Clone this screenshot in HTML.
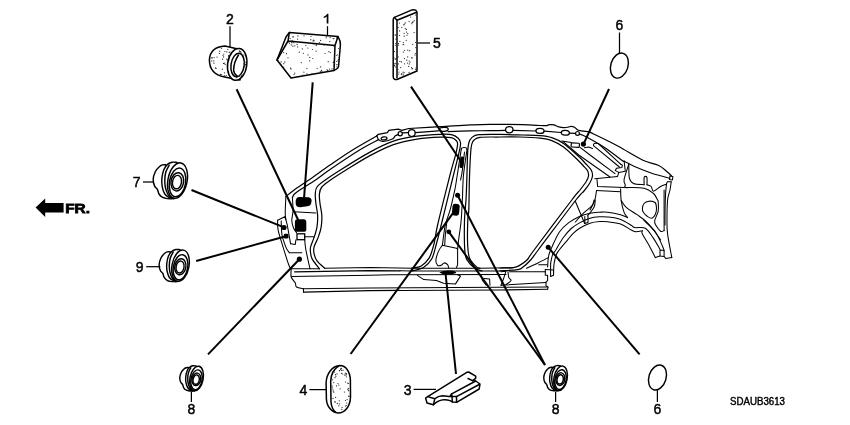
<!DOCTYPE html>
<html>
<head>
<meta charset="utf-8">
<title>Grommet (Side) diagram</title>
<style>
html,body{margin:0;padding:0;background:#fff;}
body{width:850px;height:425px;overflow:hidden;font-family:"Liberation Sans",sans-serif;filter:grayscale(1);}
svg{display:block;}
.b{fill:none;stroke:#000;stroke-width:1.22;stroke-linecap:round;stroke-linejoin:round;}
.bt{fill:none;stroke:#000;stroke-width:1.05;stroke-linecap:round;stroke-linejoin:round;}
.b2{fill:none;stroke:#000;stroke-width:1.3;stroke-linecap:round;stroke-linejoin:round;}
.p{fill:none;stroke:#000;stroke-width:1.5;stroke-linecap:round;stroke-linejoin:round;}
.pw{fill:#fff;stroke:#000;stroke-width:1.5;stroke-linecap:round;stroke-linejoin:round;}
.g{fill:none;stroke:#000;stroke-width:1.45;vector-effect:non-scaling-stroke;stroke-linecap:round;stroke-linejoin:round;}
.gw{fill:#fff;stroke:#000;stroke-width:1.45;vector-effect:non-scaling-stroke;stroke-linecap:round;stroke-linejoin:round;}
.l{fill:none;stroke:#000;stroke-width:2.0;stroke-linecap:butt;}
.t{fill:none;stroke:#000;stroke-width:1.25;}
.k{fill:#000;stroke:none;}
.w{fill:#fff;stroke:#000;stroke-width:1.3;}
.n{font-family:"Liberation Sans",sans-serif;font-size:14px;fill:#000;text-anchor:middle;stroke:#000;stroke-width:0.45;}
.d{fill:#222;stroke:none;}
</style>
</head>
<body>
<svg width="850" height="425" viewBox="0 0 850 425">
<rect x="0" y="0" width="850" height="425" fill="#fff"/>
<!-- ================= CAR BODY ================= -->
<g id="body">
<path class="b" d="M285.9,196.5 C287.2,195.5 289.7,193.2 293.5,190.4 C297.3,187.7 302.7,184.2 308.8,180.0 C314.9,175.8 322.7,170.1 330.0,165.1 C337.3,160.1 344.8,154.8 352.6,150.0 C360.4,145.2 372.8,138.3 376.8,136.0"/>
<path class="b" d="M376.8,135.8 L378.4,134.3 L387.4,132.6 L388.8,130.4 L398.2,129.2 L401.8,130.3 L408.8,128.5"/>
<path class="b" d="M408.8,128.5 C414.1,128.2 430.4,127.3 440.6,126.7 C450.8,126.1 461.8,125.3 470.0,124.9 C478.2,124.5 481.3,124.3 490.0,124.3 C498.7,124.3 514.1,124.5 522.4,124.7 C530.7,124.9 535.9,125.3 540.0,125.5 C544.1,125.7 545.8,125.7 547.0,125.7"/>
<path class="b" d="M547.0,125.5 C547.5,125.3 548.8,124.7 550.0,124.6 C551.2,124.5 552.7,124.6 554.0,124.9 C555.3,125.2 556.4,126.1 558.0,126.6 C559.6,127.0 561.8,127.5 563.5,127.6 C565.2,127.7 566.8,127.4 568.0,127.2 C569.2,127.0 569.9,126.4 571.0,126.4 C572.1,126.4 573.5,126.7 574.5,127.2 C575.5,127.7 576.1,128.8 577.0,129.4 C577.9,130.0 577.9,130.2 580.0,130.6 C582.1,131.0 587.8,131.7 589.4,131.9"/>
<path class="b" d="M589.4,131.9 C592.9,133.6 605.0,139.3 610.6,142.2 C616.2,145.0 617.6,146.0 623.0,149.0 C628.4,152.0 637.1,157.5 643.0,160.2 C648.9,162.9 654.3,163.5 658.2,165.3 C662.1,167.1 664.3,169.4 666.5,171.2 C668.7,173.0 670.7,175.1 671.5,175.9"/>
<path class="b" d="M376.8,135.8 C377.1,136.4 377.6,138.7 378.6,139.6 C379.6,140.5 380.7,141.5 383.0,141.4 C385.3,141.3 390.3,139.9 392.4,139.0 C394.4,138.1 394.4,136.5 395.3,135.8 C396.2,135.1 397.6,134.8 398.0,134.6"/>
<ellipse class="b" cx="384.1" cy="138.4" rx="3" ry="1.5" transform="rotate(-8 384.1 138.4)"/>
<circle class="b" cx="400.2" cy="133.8" r="2.1"/>
<path class="b" d="M402.3,132.8 L408.4,132.6"/>
<circle class="b" cx="411.8" cy="133.1" r="3.4"/>
<ellipse class="b" cx="443.6" cy="129.4" rx="4.6" ry="2.0" transform="rotate(-5 443.4 128.8)"/>
<path class="b" d="M415.3,132.6 L438.4,130.9"/>
<path class="b" d="M448.0,131.6 C451.7,131.5 463.0,131.0 470.0,130.8 C477.0,130.7 484.1,130.8 490.0,130.7 C495.9,130.6 502.8,130.4 505.4,130.4"/>
<path class="b" d="M513.0,130.4 L535.8,131.0"/>
<path class="b" d="M544.2,131.2 L561.2,132.5"/>
<path class="b" d="M569.4,133.1 L575.4,133.4"/>
<path class="b" d="M579.6,134.0 C580.8,134.5 582.2,134.7 586.5,137.0 C590.8,139.3 599.4,144.1 605.3,148.0 C611.2,151.9 618.7,158.0 621.8,160.2 C624.9,162.4 623.7,161.0 624.1,161.2"/>
<ellipse class="b" cx="509.3" cy="129.8" rx="3.7" ry="3.1"/>
<ellipse class="b" cx="540" cy="130.9" rx="4.1" ry="2.5" transform="rotate(3 540 130.9)"/>
<ellipse class="b" cx="565.3" cy="132.8" rx="4.1" ry="2.4" transform="rotate(4 565.3 132.8)"/>
<circle class="b" cx="577.5" cy="133.4" r="1.9"/>
<path class="b" d="M378.6,139.6 C375.4,141.3 367.7,145.0 359.6,150.0 C351.5,155.0 337.3,164.5 330.0,169.5 C322.7,174.5 320.7,176.6 315.6,180.0 C310.5,183.4 303.0,187.8 299.4,190.2 C295.8,192.6 295.4,193.1 294.2,194.3 C293.0,195.5 292.7,197.1 292.4,197.6"/>
<path class="bt" d="M292.4,197.6 C292.5,199.8 293.1,207.2 293.0,211.0 C292.9,214.8 291.7,217.7 291.8,220.5 C291.9,223.3 292.7,226.0 293.5,228.0 C294.3,230.0 296.0,231.8 296.5,232.6"/>
<path class="bt" d="M285.9,196.5 C285.8,199.6 285.0,210.2 285.3,215.3 C285.6,220.4 286.7,222.1 287.6,226.8 C288.5,231.6 290.1,241.0 290.6,243.8"/>
<path class="bt" d="M290.6,243.8 L295.3,244.4 L295.9,239.7"/>
<path class="bt" d="M294.0,211.8 L315.8,213.0"/>
<path class="b" d="M319.4,268.8 C318.2,267.2 313.9,262.0 312.4,259.4 C310.9,256.8 310.9,255.1 310.6,253.0 C310.3,250.9 310.0,249.4 310.6,246.8 C311.2,244.2 313.0,240.7 314.1,237.4 C315.2,234.1 316.4,230.5 317.0,226.8 C317.6,223.1 317.8,218.9 317.6,215.0 C317.4,211.1 316.3,207.0 315.9,203.5 C315.5,200.0 315.1,196.8 315.3,194.1 C315.5,191.3 315.3,189.3 317.0,187.0 C318.7,184.7 321.4,182.8 325.3,180.0 C329.2,177.2 332.9,174.7 340.4,170.0 C347.8,165.3 361.1,156.9 370.0,152.1 C378.9,147.3 385.7,143.8 393.5,141.2 C401.3,138.5 409.1,137.3 417.0,136.2 C424.9,135.0 434.7,134.5 440.6,134.3 C446.5,134.1 449.5,134.1 452.4,134.8 C455.3,135.5 456.8,136.9 458.2,138.3 C459.6,139.7 460.5,140.7 460.6,143.2 C460.7,145.7 460.0,148.2 458.8,153.5 C457.6,158.8 456.4,163.1 453.5,175.0 C450.6,186.9 444.0,213.6 441.2,225.0 C438.4,236.4 438.1,237.9 436.5,243.5 C434.9,249.1 434.0,254.8 431.8,258.8 C429.6,262.8 426.8,265.6 423.5,267.6 C420.2,269.6 413.9,270.3 412.0,270.9"/>
<path class="b" d="M324.7,268.2 C323.4,267.0 318.8,263.3 317.0,260.9 C315.2,258.5 314.6,256.1 314.1,253.8 C313.6,251.5 313.4,249.5 314.1,246.8 C314.8,244.1 317.0,240.7 318.2,237.4 C319.4,234.1 320.6,230.5 321.2,226.8 C321.8,223.1 322.0,218.9 321.8,215.0 C321.6,211.1 320.4,207.0 320.0,203.5 C319.6,200.0 319.1,196.8 319.4,194.1 C319.7,191.3 319.9,189.3 321.8,187.0 C323.7,184.7 326.5,182.8 330.5,180.0 C334.5,177.2 339.4,174.1 346.0,170.0 C352.6,165.9 362.1,159.8 370.0,155.6 C377.9,151.4 385.7,147.3 393.5,144.6 C401.3,141.8 409.1,140.3 417.0,139.1 C424.9,137.9 434.9,137.4 440.6,137.2 C446.3,137.0 448.6,137.2 451.2,137.7 C453.8,138.2 454.8,139.1 455.9,140.2 C457.0,141.3 457.7,141.7 457.6,144.3 C457.5,146.9 456.6,150.8 455.3,155.9 C454.0,161.0 452.9,163.5 450.0,175.0 C447.1,186.5 440.2,213.6 437.6,225.0 C435.0,236.4 435.5,238.1 434.1,243.5 C432.7,248.9 431.5,253.9 429.4,257.6 C427.2,261.3 424.1,264.1 421.2,265.9 C418.3,267.7 413.4,267.8 411.8,268.2"/>
<path class="b" d="M482.0,270.9 C480.9,270.5 477.8,270.4 475.3,268.6 C472.8,266.8 468.8,263.2 467.0,260.0 C465.2,256.8 465.1,256.1 464.7,249.4 C464.3,242.7 464.3,228.2 464.5,220.0 C464.7,211.8 465.6,206.7 466.0,200.0 C466.4,193.3 466.5,187.8 466.8,180.0 C467.1,172.2 467.3,159.7 467.6,153.5 C467.9,147.3 468.1,145.7 468.8,143.0 C469.5,140.3 470.1,139.0 471.8,137.6 C473.5,136.2 474.1,135.2 478.8,134.7 C483.5,134.2 492.7,134.3 500.0,134.4 C507.3,134.5 515.7,134.8 522.4,135.0 C529.1,135.2 535.1,135.2 540.0,135.6 C544.9,136.0 547.9,136.3 551.8,137.6 C555.7,138.9 559.0,140.3 563.5,143.5 C568.0,146.7 575.0,153.1 578.8,156.5 C582.5,159.9 583.9,161.8 586.0,164.0 C588.1,166.2 590.1,168.0 591.2,170.0 C592.3,172.0 592.7,173.8 592.5,176.0 C592.3,178.2 591.2,180.5 589.8,183.0 C588.4,185.5 586.3,188.2 584.0,191.0 C581.7,193.8 583.5,190.2 575.9,200.0 C568.3,209.8 545.8,240.0 538.2,250.0 C530.7,260.0 533.2,257.1 530.6,260.0 C528.0,262.9 524.6,266.0 522.4,267.6 C520.2,269.2 521.3,269.1 517.6,269.6 C513.9,270.2 502.9,270.7 500.0,270.9"/>
<path class="b" d="M480.0,268.2 C479.4,268.0 478.3,268.8 476.5,267.0 C474.7,265.2 470.9,261.5 469.4,257.6 C467.9,253.7 467.9,249.8 467.6,243.5 C467.3,237.2 467.6,225.6 467.8,220.0 C468.0,214.4 468.5,216.7 468.8,210.0 C469.1,203.3 469.1,189.4 469.4,180.0 C469.7,170.6 470.2,159.5 470.6,153.5 C471.0,147.5 471.2,146.3 471.8,144.1 C472.4,141.8 472.7,141.1 474.1,140.0 C475.5,138.9 475.7,137.8 480.0,137.3 C484.3,136.8 493.3,137.1 500.0,137.0 C506.7,136.9 513.3,136.8 520.0,137.0 C526.7,137.2 534.7,137.6 540.0,138.2 C545.3,138.8 547.9,139.1 551.8,140.6 C555.7,142.1 559.4,144.0 563.5,147.0 C567.6,150.0 573.2,155.7 576.5,158.8 C579.8,161.9 581.2,163.6 583.0,165.5 C584.8,167.4 586.6,168.8 587.5,170.5 C588.4,172.2 588.7,174.2 588.5,176.0 C588.3,177.8 587.6,179.2 586.2,181.5 C584.8,183.8 582.4,186.9 580.0,190.0 C577.6,193.1 579.4,190.0 571.8,200.0 C564.1,210.0 541.6,240.0 534.1,250.0 C526.6,260.0 529.5,257.4 527.0,260.0 C524.5,262.6 521.1,264.6 518.8,265.9 C516.5,267.2 516.1,267.2 513.0,267.6 C509.9,268.0 502.2,267.9 500.0,268.0"/>
<path class="bt" d="M461.2,149.6 C461.3,149.3 461.5,148.2 462.0,147.9 C462.5,147.6 463.4,147.5 464.1,147.5 C464.8,147.5 465.7,147.6 466.2,147.9 C466.7,148.2 466.9,149.3 467.0,149.6"/>
<path class="bt" d="M461.2,149.6 C460.4,154.7 457.6,173.2 456.5,180.0 C455.4,186.8 455.8,185.2 454.7,190.3 C453.6,195.4 451.6,204.5 450.0,210.3 C448.4,216.1 446.6,219.2 445.3,225.0 C444.0,230.8 442.9,241.9 442.4,245.3"/>
<path class="bt" d="M467.0,149.6 C466.4,153.8 464.3,166.8 463.5,175.0 C462.7,183.2 462.8,191.0 462.4,198.5 C462.0,206.0 461.8,213.1 461.2,220.0 C460.6,226.9 459.2,235.1 458.6,240.0 C458.0,244.9 457.8,247.8 457.6,249.4"/>
<path class="bt" d="M464.5,152.0 C464.1,155.0 463.0,165.3 462.4,170.0 C461.8,174.7 460.9,178.3 460.6,180.0"/>
<path class="bt" d="M447.0,220.0 L445.3,235.3 L444.7,245.3"/>
<path class="bt" d="M442.4,245.3 C441.8,246.2 439.9,248.2 438.8,250.6 C437.7,253.0 436.1,257.6 435.9,260.0 C435.7,262.4 436.7,264.4 437.6,265.3 C438.5,266.2 440.1,265.7 441.2,265.3 C442.3,264.9 443.0,263.0 444.1,262.9 C445.2,262.8 446.8,263.8 447.6,264.7 C448.4,265.6 448.6,267.6 448.8,268.2"/>
<path class="bt" d="M442.4,245.3 L456.5,248.2 L457.6,249.4 L457.6,264.7 L456.5,267.6"/>
<path class="bt" d="M291.2,268.8 L319.4,268.8"/>
<path class="bt" d="M291.2,268.8 C291.2,270.2 290.5,274.6 291.2,277.0 C291.9,279.4 294.4,281.3 295.3,283.0 C296.2,284.7 295.1,286.0 296.5,287.0 C297.9,288.0 302.3,288.5 303.5,288.8"/>
<path class="bt" d="M303.5,288.8 L303.5,292.1"/>
<path class="bt" d="M324.7,268.2 L370.0,267.6 L411.8,268.2 L480.0,268.2 L513.0,267.8"/>
<path class="b2" d="M294.7,271.8 L370.0,270.6 L400.0,270.8"/>
<path class="bt" d="M400.0,270.8 L412.0,270.9 L500.0,270.9"/>
<path class="bt" d="M291.8,276.5 L370.0,275.3 L390.0,274.7 L506.0,274.4"/>
<path class="bt" d="M509.4,271.8 L545.3,271.8"/>
<path class="bt" d="M303.5,288.8 L370.0,287.9 L500.0,287.3 L547.6,286.9"/>
<path class="b2" d="M303.5,292.1 L370.0,290.6 L400.0,290.3"/>
<path class="bt" d="M400.0,290.5 L500.0,290.0 L547.6,289.3"/>
<path class="bt" d="M501.0,285.3 L546.0,282.4"/>
<path class="bt" d="M417.4,275.4 L423.8,279.6 L436.5,280.4 L443.5,283.2 L455.5,283.9 L460.5,276.1 L457.6,274.8"/>
<path class="bt" d="M481.0,275.3 L482.5,280.5 L486.0,285.0"/>
<path class="bt" d="M484.0,278.5 L489.6,279.0 L490.0,285.3"/>
<path class="bt" d="M501.0,271.8 L506.0,271.2 L503.5,278.8 L501.0,285.3"/>
<path class="bt" d="M508.0,271.8 C508.1,272.8 508.3,276.1 508.8,277.6 C509.3,279.1 511.5,279.4 511.0,280.6 C510.5,281.8 506.8,284.0 506.0,284.7"/>
<path class="bt" d="M545.3,269.4 L545.3,275.3 L547.6,275.3 L547.6,280.6 L546.0,281.8 L546.0,285.9 L548.2,286.9 L547.6,289.3"/>
<path class="bt" d="M545.3,269.4 L553.5,270.0 L553.5,275.3 L550.6,276.4"/>
<path class="bt" d="M550.6,263.5 L550.6,276.4"/>
<path class="bt" d="M526.5,268.2 C528.4,267.3 534.4,264.8 538.0,263.0 C541.6,261.2 546.5,258.5 548.2,257.6"/>
<path class="bt" d="M538.8,264.7 L547.0,264.7"/>
<path class="bt" d="M277.6,220.3 C277.7,222.0 277.3,225.9 278.2,230.3 C279.1,234.7 281.2,241.0 283.0,246.8 C284.8,252.6 287.4,261.3 288.8,265.0 C290.2,268.7 290.8,268.2 291.2,268.8"/>
<path class="bt" d="M277.6,220.3 L284.7,216.8 L285.8,219.5"/>
<path class="bt" d="M281.2,220.9 C281.3,223.2 281.3,230.9 282.0,235.0 C282.7,239.1 284.4,243.0 285.3,245.6 C286.2,248.2 286.9,249.1 287.6,250.3 C288.3,251.5 289.1,252.3 289.4,252.7"/>
<path class="bt" d="M289.4,252.7 L301.8,252.7"/>
<rect class="w" x="297" y="233.8" width="7.7" height="5.9"/>
<path class="bt" d="M304.7,236.8 L314.4,236.8"/>
<path class="bt" d="M304.7,239.7 C304.9,241.4 305.0,245.2 305.9,250.0 C306.8,254.8 309.3,265.7 310.0,268.8"/>
<path class="bt" d="M593.5,145.6 C593.5,145.4 593.3,144.6 593.6,144.2 C593.9,143.8 594.7,143.4 595.5,143.3 C596.3,143.2 597.8,143.5 598.2,143.5"/>
<path class="bt" d="M598.2,143.5 L620.6,164.1"/>
<path class="bt" d="M593.5,145.6 L619.4,167.0"/>
<path class="bt" d="M580.4,147.6 L590.0,155.0 L615.0,173.6"/>
<path class="bt" d="M563.2,141.6 L578.8,155.0 L610.0,177.0"/>
<path class="bt" d="M561.8,140.9 L571.2,142.6"/>
<rect class="b" x="571.2" y="143" width="8.2" height="4.2" rx="0.8" transform="rotate(4 575 145)"/>
<path class="bt" d="M584.4,147.8 L588.6,147.0 L592.5,148.5"/>
<path class="bt" d="M620.6,164.1 L622.4,165.3 L621.8,167.6 L616.5,168.2 L615.3,170.6 L618.8,172.4 L617.6,176.2"/>
<path class="bt" d="M624.1,161.0 L625.3,171.2 L618.8,172.4"/>
<path class="bt" d="M594.7,178.8 L617.6,176.5"/>
<path class="bt" d="M597.0,179.4 L597.6,186.5 L624.1,187.6"/>
<path class="bt" d="M596.5,190.6 L620.6,191.8"/>
<path class="bt" d="M596.5,190.6 C596.2,192.3 595.8,197.4 594.7,200.6 C593.6,203.8 590.8,208.4 590.0,210.0"/>
<path class="bt" d="M620.6,188.8 C620.7,190.8 620.6,196.7 621.2,200.6 C621.8,204.5 623.0,209.6 624.1,212.4 C625.2,215.2 627.0,216.7 627.6,217.6"/>
<path class="bt" d="M628.8,164.1 C628.0,166.7 624.7,175.9 624.1,179.4 C623.5,182.9 625.3,183.9 625.3,185.3 C625.3,186.7 624.3,187.2 624.1,187.6"/>
<path class="bt" d="M628.8,164.1 C628.9,166.4 628.6,175.0 629.4,178.2 C630.2,181.4 631.0,182.4 633.5,183.5 C636.0,184.6 642.3,184.5 644.1,184.7"/>
<path class="bt" d="M644.1,184.7 C644.1,183.5 643.9,179.0 644.1,177.6 C644.3,176.2 645.0,176.4 645.5,176.4 C646.0,176.4 646.8,176.2 647.0,177.6 C647.2,179.0 647.0,183.5 647.0,184.7"/>
<path class="bt" d="M647.0,184.7 C647.7,185.0 650.1,185.4 651.2,186.5 C652.3,187.6 651.9,191.2 653.5,191.2 C655.1,191.2 658.4,187.7 660.6,186.5 C662.8,185.3 665.5,184.5 666.5,184.1"/>
<path class="bt" d="M625.3,187.6 C628.4,187.7 639.4,187.2 644.1,188.2 C648.8,189.2 651.2,191.5 653.5,193.5 C655.8,195.5 656.8,198.6 657.6,200.0 C658.4,201.4 658.1,199.9 658.2,201.8 C658.3,203.7 658.8,208.1 658.2,211.2 C657.6,214.3 655.1,218.2 654.7,220.6 C654.3,222.9 654.9,223.5 655.9,225.3 C656.9,227.1 659.2,230.3 660.6,231.2 C662.0,232.1 663.5,230.7 664.1,230.6"/>
<path class="bt" d="M664.1,230.6 L664.1,190.0"/>
<path class="bt" d="M621.2,200.6 C622.1,201.8 623.9,205.2 626.5,207.6 C629.1,209.9 633.7,212.3 637.0,214.7 C640.3,217.1 643.8,219.2 646.5,221.8 C649.2,224.4 651.1,227.0 653.5,230.0 C655.9,233.0 659.4,238.3 660.6,240.0"/>
<path class="bt" d="M624.1,161.2 C626.2,162.3 632.3,165.5 637.0,167.6 C641.7,169.7 646.9,171.7 652.4,173.5 C657.9,175.3 667.1,177.4 670.0,178.2"/>
<path class="bt" d="M642.4,209.0 C642.5,207.5 642.9,204.8 644.0,203.5 C645.1,202.2 647.2,201.4 649.0,201.2 C650.8,201.0 653.8,201.4 655.0,202.5 C656.2,203.6 656.4,206.1 656.5,208.0 C656.6,209.9 656.2,212.3 655.5,214.0 C654.8,215.7 653.3,217.8 652.0,218.2 C650.7,218.6 648.9,217.4 647.5,216.5 C646.1,215.6 644.4,213.8 643.5,212.5 C642.6,211.2 642.3,210.5 642.4,209.0 Z"/>
<path class="bt" d="M670.0,175.9 L672.9,176.5 L672.4,180.0 L669.4,179.4 Z"/>
<path class="bt" d="M667.6,181.8 L671.2,181.8"/>
<path class="bt" d="M671.2,181.8 C671.0,183.2 670.6,187.0 670.0,190.0 C669.4,193.0 668.1,195.0 667.6,200.0 C667.1,205.0 667.0,214.3 667.0,220.0 C667.0,225.7 666.8,227.8 667.6,234.1 C668.4,240.4 671.1,253.7 671.8,257.6"/>
<path class="bt" d="M671.8,257.6 L665.9,258.6 L664.1,256.5"/>
<path class="bt" d="M667.6,181.8 C667.4,182.2 666.9,181.1 666.5,184.1 C666.1,187.1 665.5,193.2 665.3,200.0 C665.0,206.8 665.0,220.8 665.0,225.0"/>
<path class="bt" d="M547.6,267.0 C547.8,265.2 547.9,259.3 548.6,256.0 C549.3,252.7 550.0,251.4 551.8,247.4 C553.6,243.4 556.6,236.1 559.4,232.0 C562.2,227.9 565.4,225.2 568.8,222.6 C572.2,220.0 576.5,217.8 580.0,216.2 C583.5,214.6 586.7,213.9 590.0,213.2 C593.3,212.5 597.1,212.4 600.0,212.2 C602.9,212.0 604.2,211.8 607.6,212.2 C611.0,212.6 617.3,213.8 620.6,214.7 C623.9,215.6 626.4,217.1 627.6,217.6"/>
<path class="bt" d="M550.6,263.5 C550.9,262.1 551.6,257.2 552.5,255.0 C553.4,252.8 554.0,252.8 555.8,250.0 C557.5,247.2 560.4,241.6 563.0,238.0 C565.6,234.4 568.4,231.1 571.2,228.5 C574.0,225.9 576.9,224.3 580.0,222.6 C583.1,220.9 586.7,219.2 590.0,218.2 C593.3,217.2 597.1,217.0 600.0,216.8 C602.9,216.6 604.2,216.6 607.6,217.0 C611.0,217.4 616.7,218.0 620.6,219.4 C624.5,220.8 628.9,223.9 631.2,225.3 C633.6,226.7 632.4,227.1 634.7,227.6 C637.1,228.1 642.2,226.5 645.3,228.2 C648.3,229.9 650.5,234.1 653.0,237.6 C655.5,241.1 658.8,247.4 660.0,249.4"/>
<path class="bt" d="M553.5,275.3 C553.6,273.3 553.6,266.9 554.1,263.5 C554.6,260.1 555.4,257.2 556.2,255.0 C557.0,252.8 557.3,252.6 558.8,250.5 C560.3,248.4 562.8,245.5 565.3,242.6 C567.8,239.7 571.0,235.6 573.5,233.2 C576.0,230.8 577.2,229.7 580.0,228.0 C582.8,226.3 586.7,224.3 590.0,223.2 C593.3,222.1 597.1,221.8 600.0,221.6 C602.9,221.4 604.2,221.4 607.6,221.8 C611.0,222.2 616.7,222.7 620.6,224.1 C624.5,225.5 628.7,228.7 631.2,230.0 C633.8,231.3 634.0,231.7 635.9,231.8 C637.8,231.9 641.3,231.0 642.4,230.8"/>
<path class="bt" d="M642.4,230.8 C642.4,231.4 641.2,231.6 642.4,234.1 C643.6,236.6 647.2,242.0 649.4,245.9 C651.5,249.8 654.3,255.7 655.3,257.6"/>
<path class="bt" d="M655.3,257.6 L660.0,255.9"/>
<path class="bt" d="M660.0,250.0 L664.1,250.6 L664.1,256.5 L660.0,255.9 L660.0,250.0"/>
<path class="bt" d="M643.5,220.0 C645.5,222.0 652.1,227.5 655.3,231.8 C658.4,236.1 660.9,242.8 662.4,245.9 C663.9,249.0 663.8,249.8 664.1,250.6"/>
<path class="bt" d="M575.3,201.2 L584.7,223.5"/>
<path class="bt" d="M584.8,216.5 L584.8,223.5 L588.0,222.5 L588.0,216.2"/>
<path class="bt" d="M594.1,200.0 C593.7,201.0 593.8,203.6 591.8,205.9 C589.8,208.2 585.1,211.4 582.4,214.1 C579.6,216.8 576.5,220.7 575.3,222.0"/>
<path class="bt" d="M595.2,200.0 C595.0,201.2 595.4,204.3 594.1,207.0 C592.8,209.7 588.7,214.4 587.6,215.9"/>
</g>
<g class="k">
<path d="M295.7,200.6 Q296.2,197.2 299.3,196.9 L308.6,197.2 Q311.7,197.8 311.6,201 L311,204 Q310.4,206 307.4,206.3 L300.2,207.3 Q296.2,207.3 295.7,204 Z"/>
<rect x="294.9" y="219.3" width="11.4" height="12.5" rx="2.6"/>
<circle cx="284" cy="227.5" r="2.6"/>
<rect x="283.8" y="233.8" width="4.7" height="4.7" rx="1.3"/>
<circle cx="299.4" cy="259.2" r="2.6"/>
<rect x="459.9" y="156.6" width="3.9" height="11.4" rx="1.6" transform="rotate(7 461.8 162.3)"/>
<circle cx="457.6" cy="195.2" r="2.5"/>
<rect x="452.2" y="203.8" width="7.2" height="11.8" rx="2.7" transform="rotate(5 455.8 209.7)"/>
<circle cx="448.8" cy="231.8" r="2.4"/>
<path d="M439.3,272.6 Q443,270.3 448,270.4 L452,270.6 Q456.2,271.4 456.2,273 L452,274.2 L443,274.2 Z"/>
<circle cx="583.4" cy="144.1" r="2.6"/>
<circle cx="548.2" cy="247.3" r="2.5"/>
</g>
<!-- ================= LEADER LINES ================= -->
<g class="l">
<path d="M312.7,82.4 L304.1,197.6"/>
<path d="M236.6,89.2 L298.2,220.0"/>
<path d="M411.0,86.6 L461.2,161.8"/>
<path d="M609.0,89.0 L583.5,144.1"/>
<path d="M191.5,190.0 L284.1,227.4"/>
<path d="M196.2,261.0 L285.9,236.2"/>
<path d="M208.0,354.4 L299.4,259.2"/>
<path d="M350.6,354.0 L452.8,213.4"/>
<path d="M456.0,374.0 L445.6,274.0"/>
<path d="M545.0,365.0 L448.8,231.8"/>
<path d="M545.0,365.0 L457.6,195.2"/>
<path d="M639.6,354.4 L548.2,247.3"/>
</g>
<!-- ================= PARTS ================= -->
<g id="p1">
<path class="pw" d="M289.4,32.4 L338,36.6 Q340.8,41 340.4,45 L338.6,66 Q338.4,68.6 334,70.4 L291,78 L277,60 L286,37 Z"/>
<path class="p" d="M288,41 L335,45.6 L334,70.4 M335,45.6 L338,36.6 M277,60 L288,41 L289.4,32.4"/>
<g class="d"><circle cx="278.3" cy="61.6" r="0.60"/><circle cx="293.8" cy="42.7" r="0.60"/><circle cx="334.6" cy="63.4" r="0.60"/><circle cx="320.3" cy="71.3" r="0.60"/><circle cx="309.8" cy="57.4" r="0.60"/><circle cx="312.8" cy="58.5" r="0.60"/><circle cx="327.4" cy="70.9" r="0.60"/><circle cx="316.4" cy="44.9" r="0.60"/><circle cx="297.1" cy="44.4" r="0.60"/><circle cx="307.8" cy="48.0" r="0.60"/><circle cx="313.9" cy="44.0" r="0.60"/><circle cx="294.8" cy="73.1" r="0.60"/><circle cx="332.0" cy="68.9" r="0.60"/><circle cx="291.6" cy="42.2" r="0.60"/><circle cx="333.4" cy="62.6" r="0.60"/><circle cx="302.3" cy="48.9" r="0.60"/><circle cx="290.6" cy="68.2" r="0.60"/><circle cx="284.8" cy="61.9" r="0.60"/><circle cx="327.7" cy="70.5" r="0.60"/><circle cx="316.2" cy="45.2" r="0.60"/><circle cx="290.9" cy="77.8" r="0.60"/><circle cx="291.0" cy="68.9" r="0.60"/><circle cx="330.3" cy="52.6" r="0.60"/><circle cx="334.6" cy="52.6" r="0.60"/><circle cx="303.3" cy="53.3" r="0.60"/><circle cx="333.8" cy="45.9" r="0.60"/><circle cx="291.3" cy="44.9" r="0.60"/><circle cx="334.6" cy="58.2" r="0.60"/><circle cx="281.1" cy="61.9" r="0.60"/><circle cx="281.2" cy="65.0" r="0.60"/><circle cx="325.1" cy="53.5" r="0.60"/><circle cx="294.1" cy="74.3" r="0.60"/><circle cx="320.7" cy="66.9" r="0.60"/><circle cx="316.1" cy="51.1" r="0.60"/><circle cx="292.0" cy="42.8" r="0.60"/><circle cx="301.3" cy="62.6" r="0.60"/><circle cx="297.7" cy="46.9" r="0.60"/><circle cx="317.2" cy="68.5" r="0.60"/><circle cx="306.9" cy="73.8" r="0.60"/><circle cx="333.3" cy="62.6" r="0.60"/><circle cx="285.0" cy="70.1" r="0.60"/><circle cx="286.5" cy="53.7" r="0.60"/><circle cx="283.8" cy="63.7" r="0.60"/><circle cx="283.7" cy="52.6" r="0.60"/><circle cx="288.0" cy="57.8" r="0.60"/><circle cx="334.0" cy="61.7" r="0.60"/><circle cx="327.1" cy="69.8" r="0.60"/><circle cx="299.3" cy="52.2" r="0.60"/><circle cx="288.8" cy="42.0" r="0.60"/><circle cx="312.0" cy="73.9" r="0.60"/><circle cx="303.9" cy="72.2" r="0.60"/><circle cx="308.0" cy="54.9" r="0.60"/><circle cx="329.6" cy="69.1" r="0.60"/><circle cx="321.9" cy="71.5" r="0.60"/><circle cx="328.2" cy="61.7" r="0.60"/><circle cx="312.4" cy="49.5" r="0.60"/><circle cx="328.9" cy="51.7" r="0.60"/><circle cx="306.9" cy="68.6" r="0.60"/><circle cx="321.6" cy="70.4" r="0.60"/><circle cx="302.9" cy="75.0" r="0.60"/><circle cx="294.8" cy="45.8" r="0.60"/><circle cx="305.8" cy="45.5" r="0.60"/><circle cx="280.1" cy="63.6" r="0.60"/><circle cx="289.5" cy="43.2" r="0.60"/><circle cx="283.7" cy="67.0" r="0.60"/><circle cx="292.9" cy="46.2" r="0.60"/><circle cx="333.8" cy="65.2" r="0.60"/><circle cx="309.7" cy="60.9" r="0.60"/><circle cx="278.2" cy="60.9" r="0.60"/><circle cx="323.9" cy="45.0" r="0.60"/></g>
<g class="d"><circle cx="310.8" cy="39.7" r="0.60"/><circle cx="333.9" cy="38.6" r="0.60"/><circle cx="313.5" cy="40.0" r="0.60"/><circle cx="297.6" cy="39.1" r="0.60"/><circle cx="319.5" cy="42.5" r="0.60"/><circle cx="293.2" cy="36.6" r="0.60"/><circle cx="320.6" cy="40.4" r="0.60"/><circle cx="297.9" cy="35.9" r="0.60"/><circle cx="290.1" cy="38.6" r="0.60"/><circle cx="314.0" cy="40.7" r="0.60"/><circle cx="313.1" cy="40.9" r="0.60"/><circle cx="311.0" cy="36.3" r="0.60"/><circle cx="329.8" cy="41.5" r="0.60"/><circle cx="304.0" cy="35.8" r="0.60"/><circle cx="326.1" cy="37.8" r="0.60"/><circle cx="330.1" cy="37.6" r="0.60"/><circle cx="335.5" cy="43.2" r="0.60"/><circle cx="333.2" cy="38.6" r="0.60"/><circle cx="336.6" cy="37.8" r="0.60"/><circle cx="292.2" cy="40.6" r="0.60"/><circle cx="326.7" cy="36.2" r="0.60"/><circle cx="292.9" cy="37.0" r="0.60"/></g>
<g class="d"><circle cx="337.8" cy="60.8" r="0.50"/><circle cx="338.5" cy="48.4" r="0.50"/><circle cx="337.1" cy="64.4" r="0.50"/><circle cx="338.5" cy="59.4" r="0.50"/><circle cx="338.1" cy="60.9" r="0.50"/><circle cx="336.7" cy="55.6" r="0.50"/><circle cx="336.8" cy="66.7" r="0.50"/><circle cx="336.4" cy="64.7" r="0.50"/><circle cx="336.5" cy="61.5" r="0.50"/><circle cx="337.3" cy="54.7" r="0.50"/></g>
</g>
<g id="p2">
<path class="pw" d="M225,46 L240,49.5 L240,80 L224.5,77 Q209.4,74 209.4,60 Q210,47 225,46 Z"/>
<g class="d"><circle cx="229.1" cy="56.6" r="0.60"/><circle cx="227.4" cy="65.8" r="0.60"/><circle cx="226.7" cy="51.9" r="0.60"/><circle cx="222.6" cy="59.2" r="0.60"/><circle cx="223.0" cy="55.3" r="0.60"/><circle cx="223.6" cy="56.9" r="0.60"/><circle cx="221.3" cy="74.6" r="0.60"/><circle cx="225.2" cy="64.4" r="0.60"/><circle cx="219.8" cy="51.2" r="0.60"/><circle cx="229.2" cy="52.6" r="0.60"/><circle cx="223.5" cy="63.4" r="0.60"/><circle cx="224.2" cy="75.7" r="0.60"/><circle cx="224.5" cy="72.8" r="0.60"/><circle cx="220.6" cy="74.4" r="0.60"/><circle cx="226.3" cy="75.5" r="0.60"/><circle cx="217.0" cy="57.1" r="0.60"/><circle cx="229.9" cy="52.1" r="0.60"/><circle cx="224.6" cy="63.1" r="0.60"/><circle cx="219.4" cy="53.4" r="0.60"/><circle cx="224.8" cy="76.0" r="0.60"/><circle cx="227.8" cy="49.3" r="0.60"/><circle cx="235.5" cy="52.9" r="0.60"/><circle cx="228.6" cy="55.5" r="0.60"/><circle cx="213.9" cy="63.2" r="0.60"/><circle cx="222.4" cy="69.2" r="0.60"/><circle cx="211.9" cy="58.2" r="0.60"/><circle cx="215.6" cy="67.9" r="0.60"/><circle cx="233.0" cy="51.9" r="0.60"/><circle cx="216.0" cy="68.4" r="0.60"/><circle cx="221.4" cy="48.3" r="0.60"/><circle cx="212.0" cy="57.7" r="0.60"/><circle cx="214.1" cy="57.5" r="0.60"/><circle cx="211.8" cy="60.9" r="0.60"/><circle cx="223.8" cy="54.0" r="0.60"/><circle cx="228.8" cy="56.8" r="0.60"/><circle cx="213.8" cy="60.9" r="0.60"/><circle cx="234.6" cy="51.0" r="0.60"/><circle cx="226.8" cy="59.2" r="0.60"/><circle cx="224.9" cy="51.5" r="0.60"/><circle cx="227.4" cy="60.0" r="0.60"/></g>
<ellipse class="pw" cx="237.2" cy="64.4" rx="9.6" ry="16.0" transform="rotate(8 237.2 64.4)"/>
<ellipse class="p" cx="237.6" cy="65" rx="6.6" ry="11.8" transform="rotate(8 237.6 65)"/>
<path class="p" d="M238.5,55 Q233.8,62 233.6,70 Q234,74 237,75.8"/>
<g class="d"><circle cx="240.7" cy="51.9" r="0.60"/><circle cx="244.1" cy="63.7" r="0.60"/><circle cx="241.6" cy="75.5" r="0.60"/><circle cx="241.5" cy="76.7" r="0.60"/><circle cx="236.8" cy="77.1" r="0.60"/><circle cx="245.9" cy="62.6" r="0.60"/><circle cx="239.2" cy="76.2" r="0.60"/><circle cx="240.9" cy="76.9" r="0.60"/><circle cx="244.8" cy="66.5" r="0.60"/><circle cx="243.6" cy="66.6" r="0.60"/><circle cx="239.8" cy="51.3" r="0.60"/><circle cx="239.5" cy="50.9" r="0.60"/><circle cx="244.7" cy="61.0" r="0.60"/><circle cx="245.5" cy="64.7" r="0.60"/><circle cx="246.1" cy="65.1" r="0.60"/><circle cx="240.1" cy="51.7" r="0.60"/><circle cx="243.1" cy="56.9" r="0.60"/><circle cx="241.2" cy="53.0" r="0.60"/><circle cx="244.0" cy="54.9" r="0.60"/><circle cx="244.5" cy="63.1" r="0.60"/><circle cx="243.1" cy="74.3" r="0.60"/><circle cx="236.6" cy="77.6" r="0.60"/></g>
</g>
<g id="p5">
<path class="pw" d="M394.4,17.4 L412,9.9 Q416.6,9 417,12.5 L417,71 L397.5,79.2 Q393.2,80.2 393.2,76.5 L393.2,19.8 Q393.2,18 394.4,17.4 Z"/>
<path class="p" d="M397,77.8 L397,20.2 L416.6,12.2 M397,20.2 L394.4,17.4"/>
<g class="d"><circle cx="409.2" cy="61.0" r="0.60"/><circle cx="398.5" cy="43.3" r="0.60"/><circle cx="415.0" cy="55.0" r="0.60"/><circle cx="414.2" cy="20.7" r="0.60"/><circle cx="406.4" cy="29.3" r="0.60"/><circle cx="407.8" cy="50.2" r="0.60"/><circle cx="398.2" cy="27.4" r="0.60"/><circle cx="403.0" cy="72.1" r="0.60"/><circle cx="411.8" cy="23.7" r="0.60"/><circle cx="412.3" cy="22.4" r="0.60"/><circle cx="409.1" cy="21.6" r="0.60"/><circle cx="398.0" cy="69.3" r="0.60"/><circle cx="401.8" cy="27.3" r="0.60"/><circle cx="415.7" cy="69.3" r="0.60"/><circle cx="403.2" cy="75.0" r="0.60"/><circle cx="407.7" cy="56.9" r="0.60"/><circle cx="401.7" cy="73.7" r="0.60"/><circle cx="414.1" cy="32.6" r="0.60"/><circle cx="404.5" cy="24.1" r="0.60"/><circle cx="403.4" cy="52.1" r="0.60"/><circle cx="398.1" cy="56.9" r="0.60"/><circle cx="404.1" cy="33.3" r="0.60"/><circle cx="412.7" cy="44.3" r="0.60"/><circle cx="403.7" cy="44.3" r="0.60"/><circle cx="410.7" cy="17.1" r="0.60"/><circle cx="415.6" cy="15.0" r="0.60"/><circle cx="411.5" cy="67.6" r="0.60"/><circle cx="398.3" cy="63.9" r="0.60"/><circle cx="404.6" cy="50.5" r="0.60"/><circle cx="401.3" cy="74.6" r="0.60"/><circle cx="401.5" cy="61.9" r="0.60"/><circle cx="404.2" cy="36.2" r="0.60"/><circle cx="407.4" cy="63.1" r="0.60"/><circle cx="399.9" cy="61.4" r="0.60"/><circle cx="412.4" cy="68.5" r="0.60"/><circle cx="398.7" cy="74.0" r="0.60"/><circle cx="399.6" cy="35.3" r="0.60"/><circle cx="409.0" cy="72.3" r="0.60"/><circle cx="404.1" cy="72.6" r="0.60"/><circle cx="407.8" cy="33.5" r="0.60"/><circle cx="403.7" cy="24.9" r="0.60"/><circle cx="399.4" cy="23.0" r="0.60"/><circle cx="415.8" cy="47.6" r="0.60"/><circle cx="405.3" cy="28.7" r="0.60"/><circle cx="408.7" cy="66.4" r="0.60"/><circle cx="406.2" cy="40.5" r="0.60"/><circle cx="399.0" cy="72.1" r="0.60"/><circle cx="398.6" cy="45.1" r="0.60"/><circle cx="413.1" cy="21.9" r="0.60"/><circle cx="409.3" cy="63.9" r="0.60"/><circle cx="399.9" cy="41.3" r="0.60"/><circle cx="400.7" cy="67.6" r="0.60"/><circle cx="403.3" cy="42.5" r="0.60"/><circle cx="416.0" cy="68.0" r="0.60"/><circle cx="415.6" cy="42.5" r="0.60"/><circle cx="406.8" cy="60.2" r="0.60"/><circle cx="406.6" cy="32.1" r="0.60"/><circle cx="405.3" cy="22.9" r="0.60"/><circle cx="415.3" cy="53.6" r="0.60"/><circle cx="407.0" cy="35.2" r="0.60"/><circle cx="399.6" cy="30.9" r="0.60"/><circle cx="412.1" cy="69.0" r="0.60"/><circle cx="404.5" cy="63.8" r="0.60"/><circle cx="411.9" cy="58.0" r="0.60"/><circle cx="410.0" cy="62.1" r="0.60"/><circle cx="404.5" cy="58.6" r="0.60"/><circle cx="403.1" cy="44.6" r="0.60"/><circle cx="411.9" cy="57.7" r="0.60"/><circle cx="403.3" cy="74.0" r="0.60"/><circle cx="409.7" cy="50.7" r="0.60"/></g>
<g class="d"><circle cx="395.8" cy="66.9" r="0.60"/><circle cx="395.1" cy="34.9" r="0.60"/><circle cx="394.0" cy="57.8" r="0.60"/><circle cx="395.1" cy="63.3" r="0.60"/><circle cx="394.9" cy="63.9" r="0.60"/><circle cx="394.6" cy="65.7" r="0.60"/><circle cx="395.7" cy="43.6" r="0.60"/><circle cx="395.2" cy="58.9" r="0.60"/><circle cx="394.4" cy="51.6" r="0.60"/><circle cx="395.9" cy="35.1" r="0.60"/><circle cx="395.8" cy="59.1" r="0.60"/><circle cx="395.9" cy="39.1" r="0.60"/><circle cx="394.2" cy="65.6" r="0.60"/><circle cx="395.9" cy="45.4" r="0.60"/></g>
</g>
<ellipse class="p" cx="619.4" cy="65.6" rx="8.6" ry="12.8" transform="rotate(17 619.4 65.6)" style="stroke-width:1.45"/>
<ellipse class="p" cx="657.5" cy="377.5" rx="8.6" ry="12.8" transform="rotate(17 657.5 377.5)" style="stroke-width:1.45"/>
<g id="p4">
<path class="pw" d="M340,365.6 C345.5,365.6 350,371 350.4,380 L350.5,397 C350.2,407 344.5,413.2 338,413 C332,412.6 326.8,407 326.4,399 L326.1,383 C326.4,374 332,366 340,365.6 Z"/>
<path class="p" d="M338.6,366.2 C334,369 331,374 330.7,381 L331,402 C331.4,407 333,410 335.6,412.2"/>
<g class="d"><circle cx="333.3" cy="391.1" r="0.60"/><circle cx="333.0" cy="389.8" r="0.60"/><circle cx="339.5" cy="370.6" r="0.60"/><circle cx="339.3" cy="403.9" r="0.60"/><circle cx="337.0" cy="373.8" r="0.60"/><circle cx="337.3" cy="403.4" r="0.60"/><circle cx="341.5" cy="370.3" r="0.60"/><circle cx="335.6" cy="397.4" r="0.60"/><circle cx="347.1" cy="399.6" r="0.60"/><circle cx="339.2" cy="400.8" r="0.60"/><circle cx="340.5" cy="369.2" r="0.60"/><circle cx="348.3" cy="388.4" r="0.60"/><circle cx="333.0" cy="398.4" r="0.60"/><circle cx="332.4" cy="387.8" r="0.60"/><circle cx="345.3" cy="373.2" r="0.60"/><circle cx="338.8" cy="405.8" r="0.60"/><circle cx="346.2" cy="405.5" r="0.60"/><circle cx="335.0" cy="377.7" r="0.60"/><circle cx="332.1" cy="385.9" r="0.60"/><circle cx="341.8" cy="409.4" r="0.60"/><circle cx="345.5" cy="406.0" r="0.60"/><circle cx="338.8" cy="385.1" r="0.60"/><circle cx="343.0" cy="370.2" r="0.60"/><circle cx="335.6" cy="374.6" r="0.60"/><circle cx="334.6" cy="372.0" r="0.60"/><circle cx="342.6" cy="374.0" r="0.60"/><circle cx="338.0" cy="383.5" r="0.60"/><circle cx="340.1" cy="388.8" r="0.60"/><circle cx="333.8" cy="382.6" r="0.60"/><circle cx="346.3" cy="374.6" r="0.60"/><circle cx="348.5" cy="390.7" r="0.60"/><circle cx="341.4" cy="368.7" r="0.60"/><circle cx="334.9" cy="401.5" r="0.60"/><circle cx="345.5" cy="382.0" r="0.60"/><circle cx="346.8" cy="403.0" r="0.60"/><circle cx="332.5" cy="379.8" r="0.60"/><circle cx="348.5" cy="383.5" r="0.60"/><circle cx="335.9" cy="376.2" r="0.60"/><circle cx="345.5" cy="400.5" r="0.60"/><circle cx="335.1" cy="402.2" r="0.60"/><circle cx="344.5" cy="375.0" r="0.60"/><circle cx="349.0" cy="396.4" r="0.60"/><circle cx="341.5" cy="373.3" r="0.60"/><circle cx="348.8" cy="396.1" r="0.60"/><circle cx="346.3" cy="376.8" r="0.60"/><circle cx="336.5" cy="385.9" r="0.60"/><circle cx="347.7" cy="383.1" r="0.60"/><circle cx="342.1" cy="407.3" r="0.60"/><circle cx="347.9" cy="389.6" r="0.60"/><circle cx="341.1" cy="368.3" r="0.60"/><circle cx="345.8" cy="375.1" r="0.60"/><circle cx="344.5" cy="392.0" r="0.60"/><circle cx="333.8" cy="392.2" r="0.60"/><circle cx="346.5" cy="373.5" r="0.60"/><circle cx="339.6" cy="370.7" r="0.60"/></g>
</g>
<g id="p3">
<path class="pw" d="M425.6,398 L427.7,396.6 L467.2,372.2 L468.6,372 L475.7,376.2 L475.7,378.3 L472.5,380.6 L475.7,381 L480,384 L479.2,389 L456.6,402.3 L452.4,402 C450,399.6 447.5,399.6 444,399.7 C440,399.8 436.5,401.6 433.4,404.7 L427,403 Z"/>
<path class="p" d="M427.7,396.6 L434.8,398.8 C437,396.8 439.5,395.9 442.5,395.8 C445,395.8 447.5,396.4 449.6,396.6 L451.7,393.8 L475.7,381 M451.7,393.8 L452.4,402 M449.6,396.6 L456.5,396.6 L479.2,384.5 M456.5,396.6 L456.6,402.3 M434.8,398.8 L433.4,404.7 M472.5,380.6 L468,378.5"/>
</g>
<g id="g7" transform="translate(177.6,181.3) scale(1.000) translate(-177.6,-181.3)">
<path class="gw" d="M165.5,164.6 C165.0,164.7 163.5,164.6 162.5,164.9 C161.5,165.2 160.5,165.5 159.3,166.7 C158.1,167.8 156.3,169.7 155.3,171.8 C154.3,173.9 153.3,176.8 153.2,179.2 C153.1,181.6 153.9,184.4 154.6,186.1 C155.3,187.8 156.7,188.1 157.4,189.4 C158.1,190.7 158.2,192.7 159.0,194.0 C159.8,195.3 161.0,196.5 162.2,197.2 C163.4,197.9 164.4,198.1 166.0,198.4 C167.6,198.7 171.0,198.7 172.0,198.8 L177,181 Z"/>
<path class="gw" d="M177.0,162.4 C176.2,162.4 173.8,161.9 172.2,162.2 C170.6,162.5 168.9,163.2 167.5,164.4 C166.1,165.7 164.7,167.4 163.8,169.7 C162.9,172.0 162.2,175.3 161.9,178.1 C161.6,180.9 161.7,183.9 162.2,186.6 C162.7,189.2 163.6,192.2 164.8,194.0 C166.0,195.8 168.1,196.9 169.6,197.7 C171.1,198.5 173.3,198.5 174.0,198.7 L177,181 Z"/>
<path class="g" d="M169.2,165.2 C168.6,166.3 166.6,169.5 165.9,171.8 C165.2,174.1 164.9,176.5 164.8,179.2 C164.7,181.8 164.9,185.1 165.4,187.7 C165.9,190.2 167.0,192.8 168.0,194.5 C169.0,196.2 170.7,197.1 171.2,197.6"/>
<ellipse class="gw" cx="177.5" cy="180.6" rx="9.6" ry="18.0" transform="rotate(11 177.5 180.6)"/>
<ellipse class="g" cx="177.5" cy="182.4" rx="8.1" ry="14.5" transform="rotate(10 177.5 182.4)"/>
<ellipse class="g" cx="177.3" cy="181.8" rx="6.3" ry="9.2" transform="rotate(10 177.3 181.8)"/>
<ellipse class="g" cx="177.0" cy="182.1" rx="4.5" ry="6.8" transform="rotate(10 177 182.1)"/>
</g>
<g id="g9" transform="translate(180.6,266.3) scale(0.880) translate(-177.6,-181.3)">
<path class="gw" d="M165.5,164.6 C165.0,164.7 163.5,164.6 162.5,164.9 C161.5,165.2 160.5,165.5 159.3,166.7 C158.1,167.8 156.3,169.7 155.3,171.8 C154.3,173.9 153.3,176.8 153.2,179.2 C153.1,181.6 153.9,184.4 154.6,186.1 C155.3,187.8 156.7,188.1 157.4,189.4 C158.1,190.7 158.2,192.7 159.0,194.0 C159.8,195.3 161.0,196.5 162.2,197.2 C163.4,197.9 164.4,198.1 166.0,198.4 C167.6,198.7 171.0,198.7 172.0,198.8 L177,181 Z"/>
<path class="gw" d="M177.0,162.4 C176.2,162.4 173.8,161.9 172.2,162.2 C170.6,162.5 168.9,163.2 167.5,164.4 C166.1,165.7 164.7,167.4 163.8,169.7 C162.9,172.0 162.2,175.3 161.9,178.1 C161.6,180.9 161.7,183.9 162.2,186.6 C162.7,189.2 163.6,192.2 164.8,194.0 C166.0,195.8 168.1,196.9 169.6,197.7 C171.1,198.5 173.3,198.5 174.0,198.7 L177,181 Z"/>
<path class="g" d="M169.2,165.2 C168.6,166.3 166.6,169.5 165.9,171.8 C165.2,174.1 164.9,176.5 164.8,179.2 C164.7,181.8 164.9,185.1 165.4,187.7 C165.9,190.2 167.0,192.8 168.0,194.5 C169.0,196.2 170.7,197.1 171.2,197.6"/>
<ellipse class="gw" cx="177.5" cy="180.6" rx="9.6" ry="18.0" transform="rotate(11 177.5 180.6)"/>
<ellipse class="g" cx="177.5" cy="182.4" rx="8.1" ry="14.5" transform="rotate(10 177.5 182.4)"/>
<ellipse class="g" cx="177.3" cy="181.8" rx="6.3" ry="9.2" transform="rotate(10 177.3 181.8)"/>
<ellipse class="g" cx="177.0" cy="182.1" rx="4.5" ry="6.8" transform="rotate(10 177 182.1)"/>
</g>
<g id="g8a" transform="translate(196.6,379.0) scale(0.690) translate(-177.6,-181.3)">
<path class="gw" d="M165.5,164.6 C165.0,164.7 163.5,164.6 162.5,164.9 C161.5,165.2 160.5,165.5 159.3,166.7 C158.1,167.8 156.3,169.7 155.3,171.8 C154.3,173.9 153.3,176.8 153.2,179.2 C153.1,181.6 153.9,184.4 154.6,186.1 C155.3,187.8 156.7,188.1 157.4,189.4 C158.1,190.7 158.2,192.7 159.0,194.0 C159.8,195.3 161.0,196.5 162.2,197.2 C163.4,197.9 164.4,198.1 166.0,198.4 C167.6,198.7 171.0,198.7 172.0,198.8 L177,181 Z"/>
<path class="gw" d="M177.0,162.4 C176.2,162.4 173.8,161.9 172.2,162.2 C170.6,162.5 168.9,163.2 167.5,164.4 C166.1,165.7 164.7,167.4 163.8,169.7 C162.9,172.0 162.2,175.3 161.9,178.1 C161.6,180.9 161.7,183.9 162.2,186.6 C162.7,189.2 163.6,192.2 164.8,194.0 C166.0,195.8 168.1,196.9 169.6,197.7 C171.1,198.5 173.3,198.5 174.0,198.7 L177,181 Z"/>
<path class="g" d="M169.2,165.2 C168.6,166.3 166.6,169.5 165.9,171.8 C165.2,174.1 164.9,176.5 164.8,179.2 C164.7,181.8 164.9,185.1 165.4,187.7 C165.9,190.2 167.0,192.8 168.0,194.5 C169.0,196.2 170.7,197.1 171.2,197.6"/>
<ellipse class="gw" cx="177.5" cy="180.6" rx="9.6" ry="18.0" transform="rotate(11 177.5 180.6)"/>
<ellipse class="g" cx="177.5" cy="182.4" rx="8.1" ry="14.5" transform="rotate(10 177.5 182.4)"/>
<ellipse class="g" cx="177.3" cy="181.8" rx="6.3" ry="9.2" transform="rotate(10 177.3 181.8)"/>
<ellipse class="g" cx="177.0" cy="182.1" rx="4.5" ry="6.8" transform="rotate(10 177 182.1)"/>
</g>
<g id="g8b" transform="translate(560.6,378.8) scale(0.690) translate(-177.6,-181.3)">
<path class="gw" d="M165.5,164.6 C165.0,164.7 163.5,164.6 162.5,164.9 C161.5,165.2 160.5,165.5 159.3,166.7 C158.1,167.8 156.3,169.7 155.3,171.8 C154.3,173.9 153.3,176.8 153.2,179.2 C153.1,181.6 153.9,184.4 154.6,186.1 C155.3,187.8 156.7,188.1 157.4,189.4 C158.1,190.7 158.2,192.7 159.0,194.0 C159.8,195.3 161.0,196.5 162.2,197.2 C163.4,197.9 164.4,198.1 166.0,198.4 C167.6,198.7 171.0,198.7 172.0,198.8 L177,181 Z"/>
<path class="gw" d="M177.0,162.4 C176.2,162.4 173.8,161.9 172.2,162.2 C170.6,162.5 168.9,163.2 167.5,164.4 C166.1,165.7 164.7,167.4 163.8,169.7 C162.9,172.0 162.2,175.3 161.9,178.1 C161.6,180.9 161.7,183.9 162.2,186.6 C162.7,189.2 163.6,192.2 164.8,194.0 C166.0,195.8 168.1,196.9 169.6,197.7 C171.1,198.5 173.3,198.5 174.0,198.7 L177,181 Z"/>
<path class="g" d="M169.2,165.2 C168.6,166.3 166.6,169.5 165.9,171.8 C165.2,174.1 164.9,176.5 164.8,179.2 C164.7,181.8 164.9,185.1 165.4,187.7 C165.9,190.2 167.0,192.8 168.0,194.5 C169.0,196.2 170.7,197.1 171.2,197.6"/>
<ellipse class="gw" cx="177.5" cy="180.6" rx="9.6" ry="18.0" transform="rotate(11 177.5 180.6)"/>
<ellipse class="g" cx="177.5" cy="182.4" rx="8.1" ry="14.5" transform="rotate(10 177.5 182.4)"/>
<ellipse class="g" cx="177.3" cy="181.8" rx="6.3" ry="9.2" transform="rotate(10 177.3 181.8)"/>
<ellipse class="g" cx="177.0" cy="182.1" rx="4.5" ry="6.8" transform="rotate(10 177 182.1)"/>
</g>
<!-- ================= TICKS ================= -->
<g class="t">
<path d="M230.0,26.2 L230.0,47.0"/>
<path d="M327.5,26.2 L327.5,35.8"/>
<path d="M417.6,43.0 L430.0,43.0"/>
<path d="M619.5,32.5 L619.5,53.0"/>
<path d="M143.0,182.0 L153.0,182.0"/>
<path d="M146.2,266.7 L160.3,266.7"/>
<path d="M191.4,392.0 L191.4,402.0"/>
<path d="M309.4,389.6 L326.0,389.6"/>
<path d="M413.6,389.4 L436.0,389.4"/>
<path d="M555.6,392.0 L555.6,402.0"/>
<path d="M657.4,390.0 L657.4,402.0"/>
</g>
<!-- ================= LABELS ================= -->
<g class="n">
<text x="230.0" y="23.6">2</text>
<text x="437.0" y="48.0">5</text>
<text x="619.4" y="29.6">6</text>
<text x="136.6" y="187.4">7</text>
<text x="139.7" y="271.8">9</text>
<text x="191.4" y="414.4">8</text>
<text x="303.4" y="394.6">4</text>
<text x="407.6" y="394.6">3</text>
<text x="555.6" y="414.4">8</text>
<text x="657.4" y="414.4">6</text>
</g>
<path class="k" d="M326.7,23.6 L326.7,16.4 Q325.3,17.6 323.7,18.1 L323.7,16.7 Q326.1,15.7 327.3,13.7 L328.4,13.7 L328.4,23.6 Z"/>
<text x="730" y="405" font-family="Liberation Sans, sans-serif" font-size="10px" fill="#000" stroke="#000" stroke-width="0.4" textLength="55" lengthAdjust="spacingAndGlyphs">SDAUB3613</text>
<!-- FR arrow -->
<path class="k" d="M35.6,207.6 L45.2,198.4 L45.2,203 L63.6,203 L63.6,212.4 L45.2,212.4 L45.2,217 Z"/>
<text x="65.2" y="212.5" font-family="Liberation Sans, sans-serif" font-size="13.6px" font-weight="bold" fill="#000" stroke="#000" stroke-width="0.8" textLength="24.8" lengthAdjust="spacingAndGlyphs">FR.</text>
</svg>
</body>
</html>
